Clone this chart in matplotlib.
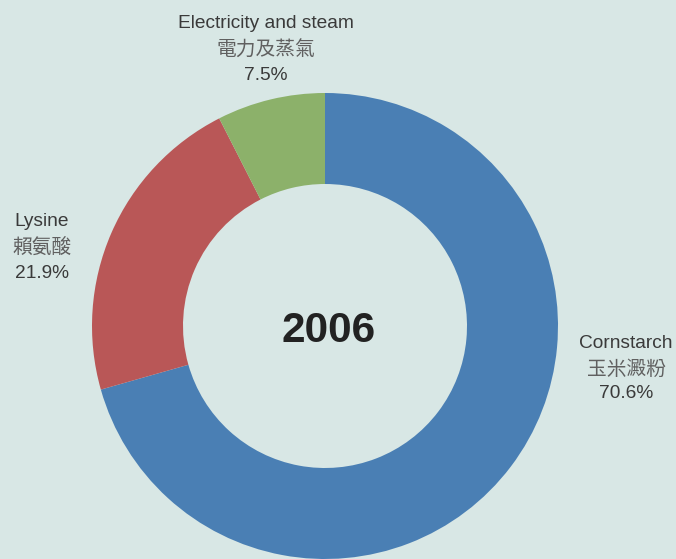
import matplotlib
matplotlib.use("Agg")
import matplotlib.pyplot as plt

labels_en = ["Cornstarch", "Lysine", "Electricity and steam"]
labels_zh = ["玉米澱粉", "賴氨酸", "電力及蒸氣"]
values = [70.6, 21.9, 7.5]
colors = ["#4a7fb4", "#b95757", "#8cb16a"]
center_title = "2006"

W, H = 676, 559
bg = "#d8e7e5"
fig = plt.figure(figsize=(W / 100, H / 100), dpi=100, facecolor=bg)
ax = fig.add_axes([0, 0, 1, 1])
ax.set_facecolor(bg)

cx, cy, R = 325, H - 326, 233
ax.pie(values, colors=colors, startangle=90, counterclock=False,
       center=(cx, cy), radius=R, frame=True,
       wedgeprops=dict(width=91, edgecolor="none"))
ax.set_xlim(0, W)
ax.set_ylim(0, H)
ax.set_aspect("equal")
ax.axis("off")

ax.text(329, H - 331, center_title, ha="center", va="center", fontsize=30.5,
        fontweight="bold", color="#222222", family="Liberation Sans")

label_pos = [(626, 343), (42, 222), (266, 24)]
for (x, y), en, zh, v in zip(label_pos, labels_en, labels_zh, values):
    ax.text(x, H - y, en, ha="center", va="center", fontsize=13.8,
            color="#3a3a3a", family="Liberation Sans")
    ax.text(x, H - y - 26, zh, ha="center", va="center", fontsize=14.2,
            color="#606060", family=["Noto Sans CJK TC", "DejaVu Sans"],
            fontweight="light")
    ax.text(x, H - y - 51, f"{v}%", ha="center", va="center", fontsize=13.8,
            color="#3a3a3a", family="Liberation Sans")

fig.savefig("out.png", dpi=100, facecolor=bg)
